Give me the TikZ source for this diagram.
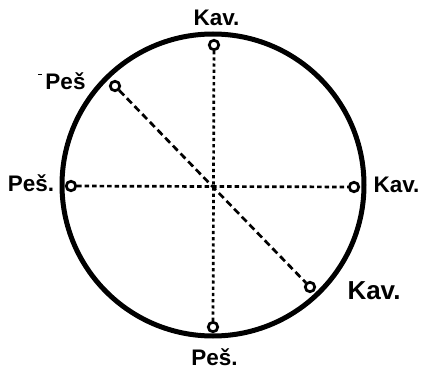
\documentclass[tikz,border=0pt]{standalone}
\usepackage{fontspec}
\newfontfamily\labfont{Liberation Sans}
\begin{document}
\begin{tikzpicture}[x=1pt,y=-1pt,
  post/.style={circle,draw,fill=white,line width=2.7pt,inner sep=0pt,minimum size=9.5pt},
  lab/.style={anchor=base,inner sep=0pt,font=\labfont\bfseries\fontsize{22.5}{22.5}\selectfont},
  biglab/.style={lab,font=\labfont\bfseries\fontsize{26}{26}\selectfont},
  vline/.style={line width=2.7pt,dash pattern=on 3.2pt off 3pt},
  hline/.style={line width=2.7pt,dash pattern=on 4.5pt off 3pt},
  dline/.style={line width=2.7pt,dash pattern=on 7pt off 4pt}]
\useasboundingbox (0,0) rectangle (424,372);
\draw[line width=5pt] (213,185) circle[radius=151];
\node[post] (top) at (214,45) {};
\node[post] (bot) at (213,327) {};
\node[post] (lft) at (71,186) {};
\node[post] (rgt) at (354,187) {};
\node[post] (ul) at (115,86) {};
\node[post] (lr) at (310,287) {};
\draw[vline] (top) -- (bot);
\draw[hline] (lft) -- (rgt);
\draw[dline] (ul) -- (lr);
\node[lab] (ltop) at (216.5,25.5) {Kav.};
\node[lab] (lul) at (65.5,89.5) {Peš};
\node[lab] (llft) at (31,191.5) {Peš.};
\node[lab] (lrgt) at (396.5,192.5) {Kav.};
\node[biglab] (llr) at (374,299.5) {Kav.};
\node[lab] (lbot) at (214.5,365.5) {Peš.};
\draw[line width=1.2pt] (38,74.5) -- (42,74.5);
\end{tikzpicture}
\end{document}
